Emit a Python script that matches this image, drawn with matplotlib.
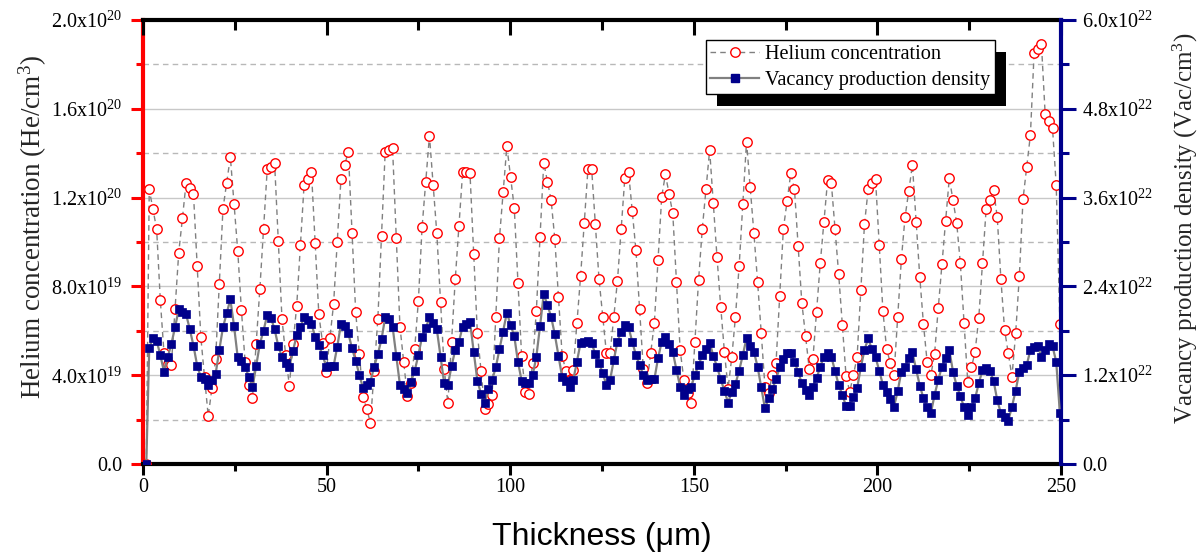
import numpy as np
import matplotlib
matplotlib.use('Agg')
import matplotlib.pyplot as plt
from matplotlib.patches import Rectangle
from matplotlib.lines import Line2D
from matplotlib.ticker import MultipleLocator

plt.rcParams['font.family'] = ['Liberation Serif', 'DejaVu Serif']
plt.rcParams['mathtext.fontset'] = 'custom'
plt.rcParams['mathtext.rm'] = 'Liberation Serif'
plt.rcParams['mathtext.it'] = 'Liberation Serif:italic'
plt.rcParams['mathtext.bf'] = 'Liberation Serif:bold'

# ---------------- data ----------------
first_depth = 0.9          # µm, the zero starting sample
x_start, x_end = 1.7, 249.7  # µm, first / last sampled depth

# Helium concentration, units of 1e19 He/cm^3
helium_1e19 = [
    12.37, 11.49, 10.59, 7.39, 5.0, 4.5, 4.46, 6.98, 9.52, 11.07,
    12.67, 12.42, 12.16, 8.93, 5.71, 3.9, 2.16, 3.41, 4.72, 8.12,
    11.5, 12.67, 13.83, 11.71, 9.61, 6.94, 4.6, 3.56, 2.96, 5.41,
    7.88, 10.57, 13.27, 13.39, 13.57, 10.06, 6.55, 4.9, 3.53, 5.41,
    7.13, 9.86, 12.57, 12.84, 13.17, 9.97, 6.74, 5.47, 4.13, 5.66,
    7.21, 10.01, 12.84, 13.47, 14.07, 10.42, 6.83, 4.95, 3.03, 2.46,
    1.86, 4.2, 6.52, 10.29, 14.07, 14.14, 14.22, 10.2, 6.19, 4.61,
    3.06, 3.63, 5.2, 7.36, 10.66, 12.72, 14.79, 12.57, 10.39, 7.31,
    4.3, 2.73, 5.51, 8.32, 10.72, 13.14, 13.14, 13.09, 9.46, 5.89,
    4.2, 2.48, 2.7, 3.11, 6.64, 10.2, 12.27, 14.32, 12.94, 11.55,
    8.16, 4.86, 3.26, 3.14, 4.56, 6.91, 10.24, 13.57, 12.72, 11.89,
    10.14, 7.51, 4.88, 4.2, 3.8, 4.23, 6.37, 8.47, 10.87, 13.3,
    13.27, 10.79, 8.32, 6.64, 4.99, 4.99, 6.61, 8.26, 10.57, 12.9,
    13.17, 11.41, 9.64, 6.97, 4.3, 3.63, 4.99, 6.34, 9.19, 12.04,
    13.05, 12.16, 11.29, 8.21, 5.14, 3.8, 3.2, 2.73, 5.51, 8.29,
    10.59, 12.37, 14.14, 11.74, 9.31, 7.09, 5.06, 3.4, 4.8, 6.64,
    8.92, 11.71, 14.52, 12.46, 10.4, 8.21, 5.89, 3.48, 3.2, 4.0,
    4.54, 7.58, 10.59, 11.85, 13.09, 12.39, 9.82, 7.27, 5.77, 4.3,
    4.72, 6.86, 9.04, 10.91, 12.79, 12.67, 10.59, 8.54, 6.26, 3.96,
    3.26, 4.01, 4.83, 7.84, 10.81, 12.37, 12.64, 12.82, 9.86, 6.89,
    5.17, 4.56, 4.01, 6.64, 9.22, 11.12, 12.31, 13.47, 10.91, 8.41,
    6.29, 4.58, 4.0, 4.95, 7.01, 8.99, 10.95, 12.87, 11.89, 10.87,
    9.04, 6.37, 3.71, 4.35, 5.06, 6.59, 9.04, 11.49, 11.89, 12.34,
    11.14, 8.32, 6.04, 4.99, 3.93, 5.89, 8.47, 11.94, 13.39, 14.82,
    18.5, 18.68, 18.9, 15.77, 15.46, 15.12, 12.57, 6.31,
]

# Vacancy production density, units of 1e21 Vac/cm^3
vacancy_1e21 = [
    15.72, 16.98, 16.67, 14.73, 12.48, 14.41, 16.22, 18.47, 20.9, 20.59,
    20.23, 18.2, 15.99, 13.29, 11.71, 11.44, 10.68, 11.35, 12.16, 15.41,
    18.47, 20.36, 22.25, 18.65, 14.41, 13.96, 13.15, 11.8, 10.36, 13.24,
    16.22, 18.02, 20.14, 19.77, 18.2, 15.95, 14.41, 13.6, 13.15, 15.32,
    17.4, 18.47, 19.82, 19.46, 18.92, 17.21, 16.08, 14.73, 13.15, 13.24,
    13.24, 15.86, 18.92, 18.65, 17.66, 15.63, 13.96, 12.03, 10.23, 10.68,
    11.13, 13.15, 14.86, 16.85, 19.82, 19.55, 18.56, 14.59, 10.68, 10.09,
    9.55, 11.13, 12.61, 14.73, 17.21, 18.33, 19.82, 19.1, 18.2, 14.5,
    10.9, 10.68, 13.24, 15.41, 16.53, 18.56, 18.92, 19.23, 15.18, 11.26,
    9.46, 8.29, 10.09, 11.35, 13.06, 15.5, 17.88, 20.45, 18.78, 17.3,
    13.83, 11.26, 10.9, 10.9, 12.03, 14.5, 18.65, 22.97, 21.49, 19.91,
    17.52, 14.59, 11.71, 11.26, 10.45, 11.35, 13.83, 16.4, 16.53, 16.67,
    16.3, 14.85, 13.7, 12.25, 10.68, 11.35, 14.05, 16.53, 17.88, 18.78,
    18.47, 16.53, 14.73, 13.38, 12.03, 11.35, 11.44, 11.44, 14.28, 16.53,
    17.21, 16.22, 15.18, 12.7, 10.45, 9.32, 10.09, 10.45, 12.03, 13.38,
    14.73, 15.5, 16.4, 14.59, 13.15, 11.44, 9.91, 8.29, 9.77, 10.81,
    12.61, 14.73, 17.0, 16.0, 15.18, 13.15, 10.36, 7.52, 8.87, 10.09,
    11.44, 13.06, 14.14, 14.95, 14.95, 13.83, 12.48, 10.9, 10.0, 9.32,
    10.45, 11.58, 13.15, 14.5, 14.95, 14.5, 12.61, 10.68, 9.32, 7.84,
    7.84, 9.01, 10.23, 13.06, 15.41, 16.98, 15.5, 14.41, 12.61, 10.68,
    9.77, 8.74, 7.75, 9.84, 12.5, 13.15, 14.28, 15.09, 12.79, 10.59,
    8.87, 7.75, 6.85, 9.32, 11.35, 13.15, 14.28, 15.41, 12.48, 10.59,
    9.19, 7.66, 6.62, 7.66, 8.87, 10.9, 12.7, 12.93, 12.61, 11.26,
    8.65, 6.85, 6.31, 5.86, 7.75, 9.91, 12.48, 12.93, 13.38, 15.41,
    15.77, 15.95, 14.5, 15.41, 16.22, 15.9, 13.83, 6.85,
]

left_ticks = [0.0, 4.0e19, 8.0e19, 1.2e20, 1.6e20, 2.0e20]
left_labels = ['0.0', '4.0x10$^{19}$', '8.0x10$^{19}$', '1.2x10$^{20}$',
               '1.6x10$^{20}$', '2.0x10$^{20}$']
right_ticks = [0.0, 1.2e22, 2.4e22, 3.6e22, 4.8e22, 6.0e22]
right_labels = ['0.0', '1.2x10$^{22}$', '2.4x10$^{22}$', '3.6x10$^{22}$',
                '4.8x10$^{22}$', '6.0x10$^{22}$']
x_ticks = [0, 50, 100, 150, 200, 250]

thickness = np.concatenate([[first_depth],
                            np.linspace(x_start, x_end, len(helium_1e19))])
helium = np.array([0.0] + helium_1e19) * 1e19
vacancy = np.array([0.0] + vacancy_1e21) * 1e21

# ---------------- figure ----------------
W, H = 1198, 556
fig = plt.figure(figsize=(W / 100, H / 100), dpi=100)
ax = fig.add_axes([143 / W, 1 - 464 / H, (1061 - 143) / W, 444 / H])
ax2 = ax.twinx()

RED = '#FF0000'
NAVY = '#00008B'
GRAY = '#808080'

ax.plot(thickness, helium, linestyle=(0, (4, 3)), color=GRAY, lw=1.0,
        marker='o', ms=6.8, mfc='white', mec=RED, mew=1.0, zorder=3)
ax2.plot(thickness, vacancy, linestyle='-', color=GRAY, lw=1.6,
         marker='s', ms=6.0, mfc=NAVY, mec=NAVY, mew=0.5, zorder=3)

ax.set_xlim(0, 250)
ax.set_ylim(0, 2.0e20)
ax2.set_ylim(0, 6.0e22)

# grid
ax.set_axisbelow(True)
ax.yaxis.set_minor_locator(MultipleLocator(2e19))
ax.grid(axis='y', which='major', color='#c8c8c8', lw=1.0, ls='-')
ax.grid(axis='y', which='minor', color='#b8b8b8', lw=1.0, ls=(0, (4, 3)))

# y ticks
ax.set_yticks(left_ticks)
ax.set_yticklabels(left_labels)
ax.tick_params(axis='y', which='major', direction='out', length=9, width=2.2,
               color=RED, labelsize=14.5, pad=6)
ax.tick_params(axis='y', which='minor', direction='out', length=5, width=2.2,
               color=RED)

ax2.set_yticks(right_ticks)
ax2.set_yticklabels(right_labels)
ax2.yaxis.set_minor_locator(MultipleLocator(6e21))
ax2.tick_params(axis='y', which='major', direction='out', length=11, width=2.2,
                color=NAVY, labelsize=14.5, pad=4)
ax2.tick_params(axis='y', which='minor', direction='out', length=6, width=2.2,
                color=NAVY)

# x ticks bottom (out)
ax.set_xticks(x_ticks)
ax.xaxis.set_minor_locator(MultipleLocator(25))
ax.tick_params(axis='x', which='major', direction='out', length=8, width=2.2,
               labelsize=14.5, pad=2, top=False)
ax.tick_params(axis='x', which='minor', direction='out', length=5, width=2.2,
               top=False)
# x ticks top (in)
ax2.xaxis.set_visible(True)
ax2.xaxis.set_minor_locator(MultipleLocator(25))
ax2.tick_params(axis='x', which='both', bottom=False, top=True,
                labelbottom=False, labeltop=False, direction='in', width=2.2)
ax2.tick_params(axis='x', which='major', length=11)
ax2.tick_params(axis='x', which='minor', length=7)

# spines
for s in ['top', 'bottom']:
    ax.spines[s].set_linewidth(3)
    ax.spines[s].set_color('black')
    ax2.spines[s].set_visible(False)
ax.spines['left'].set_color(RED)
ax.spines['left'].set_linewidth(3)
ax.spines['right'].set_visible(False)
ax2.spines['left'].set_visible(False)
ax2.spines['right'].set_color(NAVY)
ax2.spines['right'].set_linewidth(3)

# labels
ax.set_xlabel('Thickness (μm)', fontsize=23,
              family=['Liberation Sans', 'DejaVu Sans'])
ax.xaxis.set_label_coords(0.5, -0.164)
ax.xaxis.label.set_va('center')
ax.set_ylabel('Helium concentration (He/cm$^3$)', fontsize=19.5,
              color='#262626')
ax.yaxis.set_label_coords(-0.12, 0.534)
ax.yaxis.label.set_va('center')
ax2.set_ylabel('Vacancy production density (Vac/cm$^3$)', fontsize=18,
               color='#262626')
ax2.yaxis.set_label_coords(1.135, 0.53)
ax2.yaxis.label.set_va('center')

# legend
handles = [
    Line2D([], [], linestyle=(0, (4, 3)), color=GRAY, lw=1.0, marker='o',
           ms=6.8, mfc='white', mec=RED, mew=1.0),
    Line2D([], [], linestyle='-', color=GRAY, lw=1.6, marker='s', ms=6.0,
           mfc=NAVY, mec=NAVY),
]
leg = ax2.legend(handles, ['Helium concentration',
                           'Vacancy production density'],
                 loc='upper left', bbox_to_anchor=(0.613, 0.955),
                 borderaxespad=0, fontsize=14.6, frameon=True, fancybox=False,
                 framealpha=1, edgecolor='black', handlelength=2.4,
                 handletextpad=0.3, borderpad=0.22, labelspacing=0.35)
leg.get_frame().set_linewidth(1.0)
leg.set_zorder(10)

fig.canvas.draw()
bb = leg.get_window_extent()
inv = ax2.transAxes.inverted()
(sx0, sy0), (sx1, sy1) = inv.transform([[bb.x0 + 11, bb.y0 - 12],
                                        [bb.x1 + 11, bb.y1 - 12]])
shadow = Rectangle((sx0, sy0), sx1 - sx0, sy1 - sy0, transform=ax2.transAxes,
                   facecolor='black', edgecolor='none', zorder=9,
                   clip_on=False)
ax2.add_patch(shadow)

fig.savefig('out.png', dpi=100)
